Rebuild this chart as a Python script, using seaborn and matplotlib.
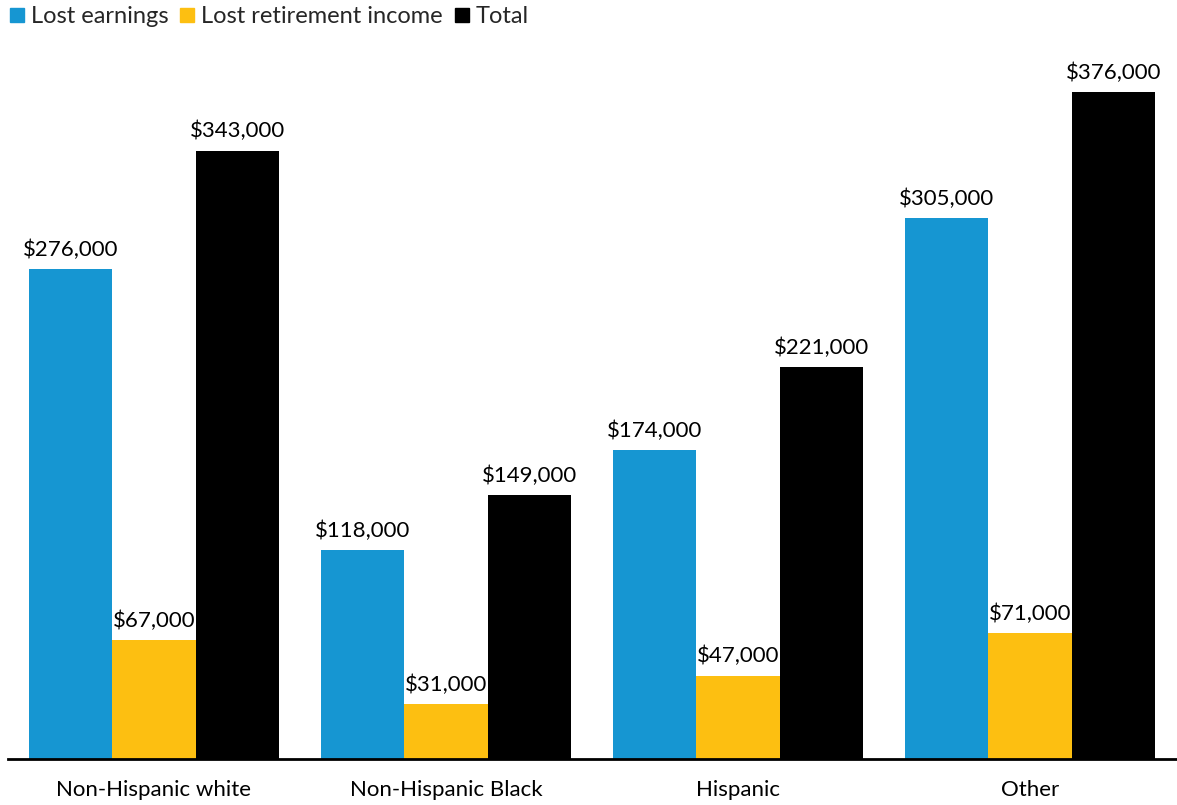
import matplotlib
matplotlib.use("Agg")
import matplotlib.pyplot as plt
import seaborn as sns
import pandas as pd
from matplotlib.lines import Line2D

groups = ["Non-Hispanic white", "Non-Hispanic Black", "Hispanic", "Other"]
series = ["Lost earnings", "Lost retirement income", "Total"]
lost_earnings = [276000, 118000, 174000, 305000]
lost_retirement = [67000, 31000, 47000, 71000]
total = [343000, 149000, 221000, 376000]
colors = ["#1696d2", "#fdbf11", "#000000"]

rows = []
for name, vals in zip(series, [lost_earnings, lost_retirement, total]):
    for g, v in zip(groups, vals):
        rows.append({"group": g, "series": name, "value": v})
df = pd.DataFrame(rows)

sns.set_theme(style="white")
plt.rcParams["font.family"] = ["Lato", "DejaVu Sans"]

fig = plt.figure(figsize=(11.77, 8.05), dpi=100)
ax = fig.add_axes([8 / 1177, 46 / 805, 1168 / 1177, 0.8815])

sns.barplot(data=df, x="group", y="value", hue="series", order=groups,
            hue_order=series, palette=colors, width=0.856, saturation=1,
            errorbar=None, ax=ax, legend=False, linewidth=0)

for container in ax.containers:
    ax.bar_label(container, labels=[f"${v:,.0f}" for v in container.datavalues],
                 padding=6.5, fontsize=16, color="#000000")

ax.set_xlim(-0.5, 3.5)
ax.set_ylim(0, 400000)
ax.set_xlabel("")
ax.set_ylabel("")
ax.set_yticks([])
ax.tick_params(axis="x", length=0, labelsize=16, pad=15, colors="#000000")
for side in ["top", "right", "left"]:
    ax.spines[side].set_visible(False)
ax.spines["bottom"].set_color("#000000")
ax.spines["bottom"].set_linewidth(2)

handles = [Line2D([0], [0], marker="s", linestyle="", markersize=10,
                  markerfacecolor=c, markeredgecolor=c) for c in colors]
fig.legend(handles, series, loc="upper left", bbox_to_anchor=(-0.003, 1.01),
           ncol=3, frameon=False, fontsize=17, handlelength=0.5,
           handletextpad=0.35, columnspacing=0.55, borderaxespad=0.2)

fig.savefig("out.png", dpi=100)
